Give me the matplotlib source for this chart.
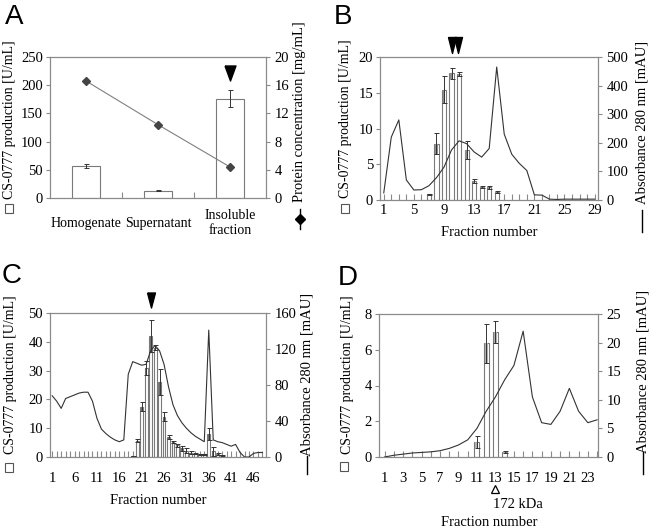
import matplotlib
matplotlib.use('Agg')
import matplotlib.pyplot as plt
import matplotlib.transforms as mtransforms
from matplotlib.lines import Line2D
from matplotlib.patches import Rectangle
from matplotlib.ticker import FixedLocator

# ---------------- data ----------------
A_categories = ['Homogenate', 'Supernatant', 'Insoluble\nfraction']
A_activity = [57, 13, 176]
A_activity_err = [4, 1, 15]
A_protein = [16.6, 10.4, 4.4]

B_fractions = list(range(1, 30))
B_absorbance = [25, 220, 280, 70, 35, 36, 50, 78, 115, 175, 207, 197, 168, 150,
                180, 465, 230, 160, 128, 103, 18, 17, 3, 2, 3, 3, 3, 3, 3]
B_bar_fractions = [7, 8, 9, 10, 11, 12, 13, 14, 15, 16]
B_activity = [0.8, 7.9, 15.4, 17.7, 17.6, 7.0, 2.7, 1.8, 1.8, 1.1]
B_activity_err = [0.1, 1.5, 1.9, 0.8, 0.3, 1.3, 0.3, 0.15, 0.2, 0.1]
B_ticklabels = [1, 5, 9, 13, 17, 21, 25, 29]

C_fractions = list(range(1, 49))
C_absorbance = [68, 62, 54, 65, 67, 69, 71, 72, 72, 62, 43, 31, 26, 22, 19, 17,
                19, 92, 106, 104, 102, 103, 118, 124, 118, 103, 78, 58, 46, 38,
                32, 27, 23, 20, 17, 141, 19, 17, 16, 14, 12, 14, 5, 0, 0, 4, 5, 5]
C_bar_fractions = [19, 20, 21, 22, 23, 24, 25, 26, 27, 28, 29, 30, 31, 32, 33,
                   34, 35, 36, 37, 38, 39]
C_activity = [0.3, 5.6, 17.5, 31, 42, 38, 26, 14, 7, 5.3, 4, 3, 2.2, 1.5, 1.2,
              1.0, 1.0, 8, 2, 1.0, 0.6]
C_activity_err = [0.1, 0.5, 1.5, 2.5, 5.5, 1.0, 4.5, 1.5, 0.8, 0.4, 0.5, 0.8,
                  0.8, 0.5, 0.3, 0.2, 0.2, 2, 1.5, 0.3, 0.2]
C_ticklabels = [1, 6, 11, 16, 21, 26, 31, 36, 41, 46]

D_fractions = list(range(1, 25))
D_absorbance = [0.0, 0.3, 0.5, 0.7, 0.8, 0.9, 1.1, 1.5, 2.1, 3.0, 5.0, 8.0,
                10.5, 13.5, 16.0, 22.0, 10.5, 6.0, 5.7, 8.0, 12.0, 8.0, 6.0, 6.5]
D_bar_fractions = [11, 12, 13, 14]
D_activity = [0.85, 6.35, 7.0, 0.3]
D_activity_err = [0.35, 1.1, 0.6, 0.05]
D_ticklabels = [1, 3, 5, 7, 9, 11, 13, 15, 17, 19, 21, 23]

# ---------------- style ----------------
plt.rcParams['font.family'] = ['Liberation Serif', 'DejaVu Serif']
plt.rcParams['font.size'] = 10.5
W, H = 650, 530
SPINE = '#8a8a8a'
EDGE = '#7a7a7a'
LINE = '#333333'

fig = plt.figure(figsize=(W / 100, H / 100), dpi=100)


def fx(x):
    return x / W


def fy(y):
    return 1 - y / H


def make_axes(l, t, r, b):
    return fig.add_axes([fx(l), fy(b), (r - l) / W, (b - t) / H])


def style(ax, xpad=3):
    for s in ax.spines.values():
        s.set_color(SPINE)
        s.set_linewidth(0.8)
    ax.tick_params(axis='y', direction='out', length=3, width=0.8, color=SPINE, pad=2)
    ax.tick_params(axis='x', which='both', direction='in', length=4, width=0.8,
                   color=SPINE, pad=xpad)


def draw_bars(ax, x, v, e, w, inner='#8c8c8c'):
    ax.bar(x, v, w, color='white', edgecolor=EDGE, linewidth=0.8, zorder=2)
    if inner is not None:
        for xi, vi, ei in zip(x, v, e):
            lo = max(vi - ei, 0)
            ax.add_patch(Rectangle((xi - w * 0.3, lo), w * 0.6, vi - lo,
                                   facecolor=inner, edgecolor='none', zorder=3))
    ax.errorbar(x, v, yerr=e, fmt='none', ecolor='#333333', elinewidth=0.7,
                capsize=1.8, capthick=0.7, zorder=4)


def arrow_marker(ax, x, y_axes, ms, ratio):
    verts = [(-ratio, 1), (ratio, 1), (0, -1), (-ratio, 1)]
    tr = mtransforms.blended_transform_factory(ax.transData, ax.transAxes)
    ax.plot([x], [y_axes], marker=verts, markersize=ms, color='black',
            transform=tr, clip_on=False, zorder=10, linestyle='none')


def left_label(x, yc, sq_left, sq_top):
    fig.text(fx(x), fy(yc), 'CS-0777 production [U/mL]', rotation=90,
             ha='center', va='center', fontsize=10)
    fig.add_artist(Rectangle((fx(sq_left), fy(sq_top + 9)), 8 / W, 9 / H,
                             transform=fig.transFigure, facecolor='white',
                             edgecolor='#555555', linewidth=0.8))


def right_label(x, yc, dash_top, dash_bot, text='Absorbance 280 nm [mAU]'):
    fig.text(fx(x), fy(yc), text, rotation=90, ha='center', va='center',
             fontsize=10.5)
    fig.add_artist(Line2D([fx(x), fx(x)], [fy(dash_top), fy(dash_bot)],
                          color='black', lw=1.0))


# ---------------- Panel A ----------------
axA = make_axes(50, 57, 266, 198)
style(axA)
xA = list(range(len(A_categories)))
draw_bars(axA, xA, A_activity, A_activity_err, 0.4, inner=None)
axA.set_xlim(-0.5, 2.5)
axA.set_ylim(0, 250)
axA.set_yticks([0, 50, 100, 150, 200, 250])
axA.set_xticks(xA)
axA.set_xticklabels([])
axA.tick_params(axis='x', which='major', length=0)
axA.xaxis.set_minor_locator(FixedLocator([0.5, 1.5]))
axA2 = axA.twinx()
style(axA2)
axA2.tick_params(axis='y', pad=3)
axA2.plot(xA, A_protein, color='#808080', lw=0.8, marker='D', markersize=4,
          markerfacecolor='#444444', markeredgecolor='#444444', zorder=5)
axA2.set_ylim(0, 20)
axA2.set_yticks([0, 4, 8, 12, 16, 20])
trA = mtransforms.blended_transform_factory(axA.transData, fig.transFigure)
for i, lab in enumerate(A_categories):
    axA.text(i, fy(223), lab, transform=trA, ha='center', va='center',
             linespacing=1.2, fontsize=10)
arrow_marker(axA, 2, 0.89, 10.8, 0.73)
left_label(10, 120, 5, 204)
fig.text(fx(300), fy(112), 'Protein concentration [mg/mL]', rotation=90,
         ha='center', va='center', fontsize=10.5)
fig.add_artist(Line2D([fx(300), fx(300)], [fy(209), fy(229)], color='black', lw=1.0))
fig.add_artist(Line2D([fx(300)], [fy(219)], marker='D', markersize=5,
                      color='black', linestyle='none'))

# ---------------- Panel B ----------------
axB = make_axes(380, 57, 598, 200)
style(axB, xpad=3)
draw_bars(axB, B_bar_fractions, B_activity, B_activity_err, 0.55)
axB.set_xlim(0.5, 29.45)
axB.set_ylim(0, 20)
axB.set_yticks([0, 5, 10, 15, 20])
axB.set_xticks(B_ticklabels)
axB.xaxis.set_minor_locator(FixedLocator(B_fractions))
axB2 = axB.twinx()
style(axB2)
axB2.tick_params(axis='y', pad=3)
axB2.plot(B_fractions, B_absorbance, color=LINE, lw=0.8, zorder=5)
axB2.set_ylim(0, 500)
axB2.set_yticks([0, 100, 200, 300, 400, 500])
arrow_marker(axB2, 10, 1.084, 11.5, 0.5)
arrow_marker(axB2, 10.85, 1.084, 11.5, 0.5)
left_label(345, 119, 341, 204)
right_label(642, 122, 210, 232)
fig.text(fx(489), fy(233), 'Fraction number', ha='center', va='center')

# ---------------- Panel C ----------------
axC = make_axes(50, 313, 266, 457)
style(axC, xpad=11)
draw_bars(axC, C_bar_fractions, C_activity, C_activity_err, 0.65, inner='#6e6e6e')
axC.set_xlim(0.5, 48.8)
axC.set_ylim(0, 50)
axC.set_yticks([0, 10, 20, 30, 40, 50])
axC.set_xticks(C_ticklabels)
axC.xaxis.set_minor_locator(FixedLocator(C_fractions))
axC2 = axC.twinx()
style(axC2)
axC2.tick_params(axis='y', pad=3)
axC2.plot(C_fractions, C_absorbance, color=LINE, lw=0.8, zorder=5)
axC2.set_ylim(0, 160)
axC2.set_yticks([0, 40, 80, 120, 160])
arrow_marker(axC2, 23, 1.087, 10.8, 0.53)
left_label(11, 375, 5, 463)
right_label(307, 374, 456, 474)
fig.text(fx(158), fy(501), 'Fraction number', ha='center', va='center')

# ---------------- Panel D ----------------
axD = make_axes(379, 314, 598, 457)
style(axD, xpad=11)
draw_bars(axD, D_bar_fractions, D_activity, D_activity_err, 0.55, inner='#b0b0b0')
axD.set_xlim(0.4, 24.1)
axD.set_ylim(0, 8)
axD.set_yticks([0, 2, 4, 6, 8])
axD.set_xticks(D_ticklabels)
axD.xaxis.set_minor_locator(FixedLocator(D_fractions))
axD2 = axD.twinx()
style(axD2)
axD2.tick_params(axis='y', pad=3)
axD2.plot(D_fractions, D_absorbance, color=LINE, lw=0.8, zorder=5)
axD2.set_ylim(0, 25)
axD2.set_yticks([0, 5, 10, 15, 20, 25])
trD = mtransforms.blended_transform_factory(axD.transData, fig.transFigure)
axD.plot([13], [fy(489)], marker='^', markersize=5.5, markerfacecolor='none',
         markeredgecolor='black', markeredgewidth=0.9, transform=trD,
         clip_on=False, linestyle='none')
axD.text(12.7, fy(505), '172 kDa', transform=trD, ha='left', va='center')
left_label(348, 375, 340, 462)
right_label(643, 371, 452, 474)
fig.text(fx(489), fy(522), 'Fraction number', ha='center', va='center')

# ---------------- panel letters ----------------
for lab, x, y in [('A', 5, 17), ('B', 334, 17), ('C', 2, 276), ('D', 338, 278)]:
    fig.text(fx(x), fy(y), lab, fontsize=20, family=['Liberation Sans', 'DejaVu Sans'],
             ha='left', va='center')

fig.savefig('out.png', dpi=100)
